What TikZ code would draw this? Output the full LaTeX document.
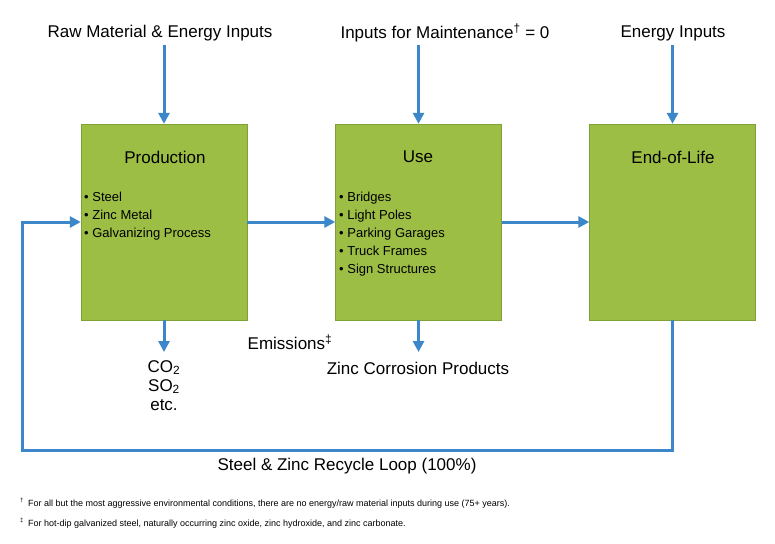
\documentclass[tikz,border=0pt]{standalone}
\usepackage{fontspec}
\setmainfont{Liberation Sans}
\usetikzlibrary{arrows.meta}
\definecolor{boxg}{HTML}{9DBE45}
\definecolor{boxb}{HTML}{7FA235}
\definecolor{arr}{HTML}{3C87C9}
\begin{document}
\begin{tikzpicture}[x=1pt,y=-1pt,
  stage/.style={draw=boxb,fill=boxg,minimum width=166pt,minimum height=196pt,inner sep=0pt},
  flow/.style={draw=arr,line width=3pt,-{Triangle[length=11pt,width=11pt]}},
  lab/.style={font=\fontsize{17}{20}\selectfont,inner sep=0pt},
  blist/.style={font=\fontsize{13}{18}\selectfont,align=left,anchor=north west,inner sep=0pt},
  foot/.style={font=\fontsize{9}{11}\selectfont,anchor=west,inner sep=0pt}]
\useasboundingbox (0,0) rectangle (775,543);
\fill[white] (0,0) rectangle (775,543);
\node[stage] (p) at (164,222) {};
\node[stage] (u) at (418.5,222) {};
\node[stage] (e) at (672.5,222) {};
\node[lab] (pt) at (165,157) {Production};
\node[lab] (ut) at (418,157) {Use};
\node[lab] (et) at (673,157) {End-of-Life};
\node[blist] (pl) at (84,192) {• Steel\\• Zinc Metal\\• Galvanizing Process};
\node[blist] (ul) at (339,192) {• Bridges\\• Light Poles\\• Parking Garages\\• Truck Frames\\• Sign Structures};
\node[lab] (t1) at (160,33) {Raw Material \& Energy Inputs};
\node[lab] (t2) at (445,33) {Inputs for Maintenance\textsuperscript{†} = 0};
\node[lab] (t3) at (673,33) {Energy Inputs};
\coordinate (a1) at (164,45); \coordinate (a2) at (418.5,45); \coordinate (a3) at (672.5,45);
\draw[flow] (a1) -- (p.north);
\draw[flow] (a2) -- (u.north);
\draw[flow] (a3) -- (e.north);
\draw[flow] (p.east) -- (u.west);
\draw[flow] (u.east) -- (e.west);
\coordinate (d1) at (164,352); \coordinate (d2) at (418.5,352);
\draw[flow] (p.south) -- (d1);
\draw[flow] (u.south) -- (d2);
\node[lab] (em) at (290,342) {Emissions\textsuperscript{‡}};
\node[lab,align=center,anchor=north] (co) at (164,360) {CO\textsubscript{2}\\[-1pt]SO\textsubscript{2}\\[-1pt]etc.};
\node[lab] (zc) at (418,368) {Zinc Corrosion Products};
\coordinate (r1) at (672.5,450); \coordinate (r2) at (22,450); \coordinate (r3) at (22,222);
\draw[flow] (e.south) -- (r1) -- (r2) -- (r3) -- (p.west);
\node[lab] (rl) at (347,466) {Steel \& Zinc Recycle Loop (100\%)};
\node[foot] (f1) at (20,503) {\textsuperscript{†}\, For all but the most aggressive environmental conditions, there are no energy/raw material inputs during use (75+ years).};
\node[foot] (f2) at (20,523) {\textsuperscript{‡}\, For hot-dip galvanized steel, naturally occurring zinc oxide, zinc hydroxide, and zinc carbonate.};
\end{tikzpicture}
\end{document}
